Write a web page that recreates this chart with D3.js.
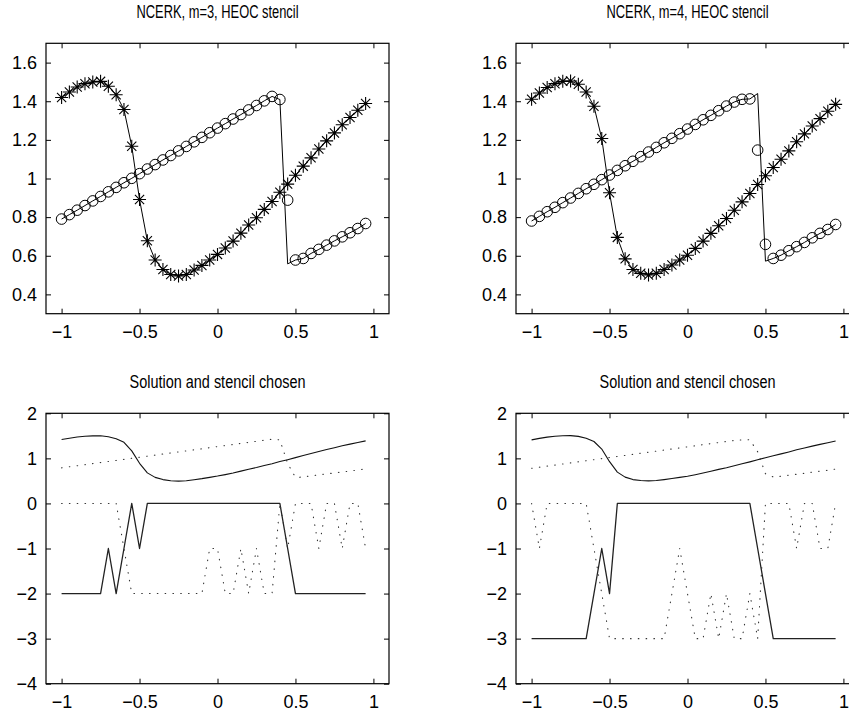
<!DOCTYPE html>
<html>
<head>
<meta charset="utf-8">
<script src="https://cdn.jsdelivr.net/npm/d3@7"></script>
<style>
  html, body { margin: 0; padding: 0; background: #fff; }
  svg { display: block; }
  text { font-family: "Liberation Sans", Arial, Helvetica, sans-serif; fill: #000; }
</style>
</head>
<body>
<svg id="fig" width="849" height="713"></svg>
<script>
// Grid points shared by every series
const xGrid = [-1, -0.95, -0.9, -0.85, -0.8, -0.75, -0.7, -0.65, -0.6, -0.55,
               -0.5, -0.45, -0.4, -0.35, -0.3, -0.25, -0.2, -0.15, -0.1, -0.05,
               0, 0.05, 0.1, 0.15, 0.2, 0.25, 0.3, 0.35, 0.4, 0.45,
               0.5, 0.55, 0.6, 0.65, 0.7, 0.75, 0.8, 0.85, 0.9, 0.95];

// Tick labels
const xTicks = [-1, -0.5, 0, 0.5, 1];
const yTicksSolution = [0.4, 0.6, 0.8, 1, 1.2, 1.4, 1.6];
const yTicksStencil = [-4, -3, -2, -1, 0, 1, 2];

// Titles
const titlesTop = ["NCERK, m=3, HEOC stencil", "NCERK, m=4, HEOC stencil"];
const titleBottom = "Solution and stencil chosen";

// m = 3: smooth component (asterisks) and shocked component (circles)
const smoothM3 = [1.419, 1.448, 1.474, 1.491, 1.500, 1.503, 1.478, 1.434, 1.357, 1.167,
                  0.891, 0.678, 0.578, 0.529, 0.503, 0.495, 0.503, 0.526, 0.550, 0.578,
                  0.607, 0.640, 0.676, 0.717, 0.759, 0.797, 0.840, 0.881, 0.929, 0.971,
                  1.017, 1.064, 1.107, 1.153, 1.195, 1.236, 1.278, 1.316, 1.353, 1.388];
const shockM3 = [0.790, 0.813, 0.836, 0.860, 0.884, 0.907, 0.931, 0.954, 0.978, 1.001,
                 1.025, 1.049, 1.072, 1.096, 1.119, 1.143, 1.166, 1.190, 1.213, 1.237,
                 1.261, 1.284, 1.308, 1.331, 1.355, 1.378, 1.402, 1.425, 1.409, 0.888,
                 0.578, 0.586, 0.612, 0.633, 0.655, 0.677, 0.698, 0.719, 0.741, 0.767];
const exactShockM3 = [0.790, 0.813, 0.836, 0.860, 0.884, 0.907, 0.931, 0.954, 0.978, 1.001,
                      1.025, 1.049, 1.072, 1.096, 1.119, 1.143, 1.166, 1.190, 1.213, 1.237,
                      1.261, 1.284, 1.308, 1.331, 1.355, 1.378, 1.402, 1.425, 1.409, 0.558,
                      0.578, 0.586, 0.612, 0.633, 0.655, 0.677, 0.698, 0.719, 0.741, 0.767];
const stencilSmoothM3 = [-2, -2, -2, -2, -2, -2, -1, -2, -1, 0,
                         -1, 0, 0, 0, 0, 0, 0, 0, 0, 0,
                         0, 0, 0, 0, 0, 0, 0, 0, 0, -1,
                         -2, -2, -2, -2, -2, -2, -2, -2, -2, -2];
const stencilShockM3 = [0, 0, 0, 0, 0, 0, 0, 0, -1, -2,
                        -2, -2, -2, -2, -2, -2, -2, -2, -2, -1,
                        -1, -2, -2, -1, -2, -1, -2, -2, 0, -1,
                        0, 0, 0, -1, 0, 0, -1, 0, 0, -1];

// m = 4
const smoothM4 = [1.410, 1.443, 1.471, 1.491, 1.503, 1.505, 1.488, 1.448, 1.374, 1.207,
                  0.926, 0.695, 0.584, 0.529, 0.509, 0.500, 0.509, 0.529, 0.552, 0.578,
                  0.603, 0.638, 0.676, 0.716, 0.755, 0.793, 0.836, 0.879, 0.922, 0.969,
                  1.014, 1.057, 1.100, 1.143, 1.190, 1.231, 1.272, 1.310, 1.348, 1.384];
const shockM4 = [0.780, 0.804, 0.828, 0.851, 0.875, 0.899, 0.923, 0.947, 0.970, 0.994,
                 1.018, 1.042, 1.066, 1.089, 1.113, 1.137, 1.161, 1.185, 1.208, 1.232,
                 1.256, 1.280, 1.304, 1.327, 1.351, 1.375, 1.396, 1.410, 1.412, 1.147,
                 0.659, 0.586, 0.603, 0.626, 0.647, 0.669, 0.693, 0.716, 0.736, 0.762];
const exactShockM4 = [0.780, 0.804, 0.828, 0.851, 0.875, 0.899, 0.923, 0.947, 0.970, 0.994,
                      1.018, 1.042, 1.066, 1.089, 1.113, 1.137, 1.161, 1.185, 1.208, 1.232,
                      1.256, 1.280, 1.304, 1.327, 1.351, 1.375, 1.396, 1.410, 1.412, 1.440,
                      0.572, 0.586, 0.603, 0.626, 0.647, 0.669, 0.693, 0.716, 0.736, 0.762];
const stencilSmoothM4 = [-3, -3, -3, -3, -3, -3, -3, -3, -2, -1,
                         -2, 0, 0, 0, 0, 0, 0, 0, 0, 0,
                         0, 0, 0, 0, 0, 0, 0, 0, 0, -1,
                         -2, -3, -3, -3, -3, -3, -3, -3, -3, -3];
const stencilShockM4 = [0, -1, 0, 0, 0, 0, 0, 0, -1, -2,
                        -3, -3, -3, -3, -3, -3, -3, -3, -2, -1,
                        -2, -3, -3, -2, -3, -2, -3, -3, -2, -3,
                        0, 0, 0, 0, -1, 0, 0, -1, -1, 0];

const svg = d3.select("#fig");
const W = 849, H = 713;
svg.append("rect").attr("width", W).attr("height", H).attr("fill", "#fff");

const AX_W = 343, AX_H = 270.4;
const colLeft = [46, 516];
const rowTop = [43.3, 413.3];
const TICK_FONT = 18, TITLE_FONT = 17.5;

const fmt = v => (v < 0 ? "\u2212" + String(Math.abs(v)) : String(v));

function makeAxes(x0, y0, yDomain, yTicks, title, titleWidth) {
  const g = svg.append("g");
  const x = d3.scaleLinear().domain([-1.1, 1.1]).range([x0, x0 + AX_W]);
  const y = d3.scaleLinear().domain(yDomain).range([y0 + AX_H, y0]);

  const styleAxis = sel => {
    sel.select(".domain").remove();
    sel.selectAll(".tick line").attr("stroke", "#000").attr("stroke-width", 1);
    sel.selectAll(".tick text").attr("font-size", TICK_FONT)
      .attr("font-family", "'Liberation Sans', Arial, sans-serif").attr("fill", "#000");
  };

  g.append("g").attr("transform", `translate(0,${y0 + AX_H})`)
    .call(d3.axisBottom(x).tickValues(xTicks).tickSize(-5).tickSizeOuter(0).tickPadding(12).tickFormat(fmt))
    .call(styleAxis);
  g.append("g").attr("transform", `translate(0,${y0})`)
    .call(d3.axisTop(x).tickValues(xTicks).tickSize(-5).tickSizeOuter(0).tickFormat(""))
    .call(styleAxis);
  g.append("g").attr("transform", `translate(${x0},0)`)
    .call(d3.axisLeft(y).tickValues(yTicks).tickSize(-5).tickSizeOuter(0).tickPadding(9).tickFormat(fmt))
    .call(styleAxis);
  g.append("g").attr("transform", `translate(${x0 + AX_W},0)`)
    .call(d3.axisRight(y).tickValues(yTicks).tickSize(-5).tickSizeOuter(0).tickFormat(""))
    .call(styleAxis);

  g.append("rect").attr("x", x0).attr("y", y0).attr("width", AX_W).attr("height", AX_H)
    .attr("fill", "none").attr("stroke", "#000").attr("stroke-width", 1.2);

  g.append("text").attr("x", x0 + AX_W / 2).attr("y", y0 - 25)
    .attr("text-anchor", "middle").attr("font-size", TITLE_FONT)
    .attr("textLength", titleWidth).attr("lengthAdjust", "spacingAndGlyphs")
    .text(title);

  const plot = svg.append("g");
  return { x, y, plot };
}

function drawLine(ax, values, style) {
  const line = d3.line().x((d, i) => ax.x(xGrid[i])).y(d => ax.y(d));
  const p = ax.plot.append("path").attr("d", line(values)).attr("fill", "none")
    .attr("stroke", style.color || "#000").attr("stroke-width", style.width || 1)
    .attr("stroke-linejoin", "round");
  if (style.dash) p.attr("stroke-dasharray", style.dash).attr("stroke-linecap", "round");
  return p;
}

function drawCircles(ax, values) {
  ax.plot.append("g").selectAll("circle").data(values).join("circle")
    .attr("cx", (d, i) => ax.x(xGrid[i])).attr("cy", d => ax.y(d)).attr("r", 5.3)
    .attr("fill", "none").attr("stroke", "#000").attr("stroke-width", 1);
}

function drawStars(ax, values) {
  const s = 6.5, d2 = 4.6;
  const star = `M${-s},0L${s},0M0,${-s}L0,${s}M${-d2},${-d2}L${d2},${d2}M${-d2},${d2}L${d2},${-d2}`;
  ax.plot.append("g").selectAll("path").data(values).join("path")
    .attr("transform", (d, i) => `translate(${ax.x(xGrid[i])},${ax.y(d)})`)
    .attr("d", star).attr("fill", "none").attr("stroke", "#000").attr("stroke-width", 1.1);
}

const runs = [
  { smooth: smoothM3, shock: shockM3, exact: exactShockM3, stS: stencilSmoothM3, stK: stencilShockM3 },
  { smooth: smoothM4, shock: shockM4, exact: exactShockM4, stS: stencilSmoothM4, stK: stencilShockM4 }
];

runs.forEach((r, c) => {
  // Solution with markers
  const top = makeAxes(colLeft[c], rowTop[0], [0.3, 1.7], yTicksSolution, titlesTop[c], 162);
  drawLine(top, r.smooth, { width: 1 });
  drawLine(top, r.exact, { width: 1 });
  drawStars(top, r.smooth);
  drawCircles(top, r.shock);

  // Solution together with the chosen stencil
  const bot = makeAxes(colLeft[c], rowTop[1], [-4, 2], yTicksStencil, titleBottom, 176);
  drawLine(bot, r.smooth, { width: 1.1, color: "#111" });
  drawLine(bot, r.shock, { width: 1.1, color: "#333", dash: "0.6 7.2" });
  drawLine(bot, r.stS, { width: 1.3, color: "#222" });
  drawLine(bot, r.stK, { width: 1.1, color: "#333", dash: "0.6 7.2" });
});
</script>
</body>
</html>
